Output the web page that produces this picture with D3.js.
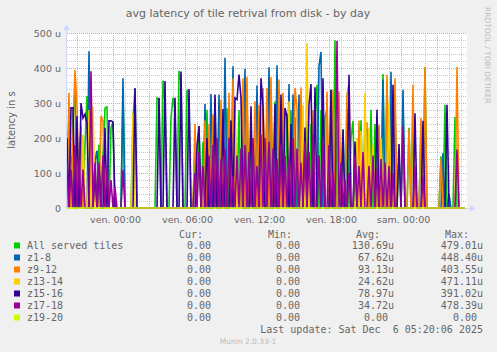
<!DOCTYPE html>
<html lang="en">
<head>
    <meta charset="UTF-8">
    <title>avg latency of tile retrival from disk - by day</title>
    <style>
        body, html { margin: 0; padding: 0; background-color: #f0f0f0; }
        svg { display: block; }
        text { font-family: "DejaVu Sans", sans-serif; fill: #666666; }
        .mono { font-family: "DejaVu Sans Mono", monospace; font-size: 10px; }
    </style>
</head>
<body>
    <svg id="chart" width="497" height="352"></svg>

    <script src="https://d3js.org/d3.v7.min.js"></script>
    <script>
        // series, drawn in this order (later ones on top)
        const seriesLabels = ["All served tiles", "z1-8", "z9-12", "z13-14", "z15-16", "z17-18", "z19-20"];
        const seriesColors = ["#00cc00", "#0066b3", "#ff8000", "#ffcc00", "#330099", "#990099", "#ccff00"];

        const curValues = ["0.00", "0.00", "0.00", "0.00", "0.00", "0.00", "0.00"];
        const minValues = ["0.00", "0.00", "0.00", "0.00", "0.00", "0.00", "0.00"];
        const avgValues = ["130.69u", "67.62u", "93.13u", "24.62u", "78.97u", "34.72u", "0.00"];
        const maxValues = ["479.01u", "448.40u", "403.55u", "471.11u", "391.02u", "478.39u", "0.00"];

        const yTicks = [0, 100, 200, 300, 400, 500];

        // samples every 10 minutes from jeu. 20:10, values in micro seconds
        const allServed = [
            120, 263, 0, 260, 334, 0, 150, 230, 0, 180,
            320, 0, 280, 0, 134, 0, 181, 0, 150, 286,
            289, 0, 230, 246, 0, 0, 0, 0, 329, 0,
            0, 0, 0, 257, 340, 0, 0, 0, 0, 0,
            0, 0, 0, 0, 0, 314, 310, 0, 364, 300,
            0, 0, 257, 315, 280, 0, 392, 360, 0, 0,
            338, 300, 0, 0, 175, 0, 234, 0, 189, 0,
            281, 0, 250, 0, 314, 0, 200, 0, 250, 0,
            285, 0, 250, 0, 260, 0, 280, 0, 300, 0,
            314, 0, 230, 0, 250, 0, 240, 0, 270, 0,
            280, 0, 300, 0, 305, 0, 260, 0, 240, 0,
            271, 0, 280, 0, 260, 0, 270, 0, 230, 0,
            250, 0, 240, 0, 260, 352, 0, 280, 0, 260,
            280, 0, 338, 0, 479, 0, 250, 0, 224, 0,
            286, 0, 200, 249, 0, 180, 0, 251, 0, 230,
            220, 0, 281, 0, 240, 0, 230, 0, 383, 0,
            360, 0, 250, 0, 300, 0, 150, 0, 300, 0,
            0, 229, 0, 303, 0, 0, 0, 234, 0, 403,
            0, 0, 0, 0, 0, 0, 0, 148, 0, 295,
            0, 0, 0, 0, 260, 0, 0, 0, 0, 0
        ];
        const z1to8 = [
            0, 0, 150, 0, 0, 0, 120, 0, 0, 0,
            0, 448, 0, 0, 134, 164, 0, 0, 0, 0,
            0, 0, 0, 0, 0, 0, 0, 0, 371, 0,
            0, 0, 0, 0, 0, 0, 0, 0, 0, 0,
            0, 0, 0, 0, 0, 0, 0, 0, 0, 0,
            0, 0, 0, 0, 0, 0, 0, 0, 0, 0,
            0, 0, 0, 0, 0, 0, 0, 0, 0, 297,
            0, 0, 326, 0, 0, 0, 324, 0, 0, 429,
            0, 0, 0, 405, 0, 0, 0, 0, 0, 398,
            0, 0, 0, 0, 0, 350, 0, 0, 0, 0,
            0, 402, 0, 0, 0, 408, 0, 0, 0, 0,
            0, 354, 0, 324, 0, 0, 324, 0, 0, 0,
            0, 0, 0, 0, 0, 0, 405, 446, 0, 0,
            0, 0, 0, 300, 0, 0, 0, 0, 0, 0,
            0, 0, 0, 0, 0, 0, 0, 0, 0, 0,
            0, 0, 0, 0, 0, 0, 0, 0, 367, 0,
            0, 0, 389, 0, 0, 0, 0, 0, 338, 0,
            0, 0, 0, 0, 0, 0, 0, 0, 0, 0,
            0, 0, 0, 0, 0, 0, 0, 0, 157, 0,
            0, 40, 0, 0, 0, 0, 0, 0, 0, 0
        ];
        const z9to12 = [
            0, 329, 0, 220, 395, 290, 0, 235, 0, 0,
            0, 0, 362, 0, 0, 0, 0, 263, 248, 0,
            0, 0, 0, 0, 0, 0, 0, 0, 0, 0,
            0, 0, 0, 0, 0, 0, 0, 0, 0, 0,
            0, 0, 0, 0, 0, 0, 0, 0, 0, 0,
            0, 0, 0, 0, 0, 0, 0, 0, 0, 0,
            0, 0, 0, 0, 240, 0, 0, 0, 0, 250,
            0, 240, 0, 267, 0, 0, 0, 309, 0, 0,
            0, 329, 0, 371, 0, 0, 0, 0, 371, 0,
            375, 0, 0, 0, 305, 0, 295, 0, 343, 0,
            343, 0, 374, 0, 0, 0, 367, 0, 329, 0,
            0, 0, 0, 0, 343, 286, 0, 345, 0, 0,
            0, 0, 0, 280, 0, 0, 0, 0, 0, 0,
            333, 0, 0, 338, 0, 0, 333, 0, 0, 0,
            324, 357, 0, 0, 0, 0, 250, 0, 0, 240,
            243, 0, 0, 0, 0, 0, 238, 0, 0, 0,
            381, 0, 0, 0, 371, 0, 0, 0, 0, 0,
            0, 225, 0, 352, 0, 0, 0, 257, 0, 403,
            0, 0, 0, 0, 0, 0, 0, 140, 0, 0,
            0, 0, 0, 0, 0, 403, 0, 0, 0, 0
        ];
        const z13to14 = [
            0, 0, 0, 0, 0, 200, 0, 0, 210, 0,
            0, 280, 0, 290, 0, 0, 0, 0, 0, 0,
            0, 0, 0, 0, 0, 0, 0, 0, 0, 0,
            0, 0, 0, 271, 0, 0, 0, 0, 0, 0,
            0, 0, 0, 0, 0, 0, 0, 0, 0, 0,
            0, 0, 0, 0, 0, 0, 0, 0, 0, 0,
            0, 0, 0, 0, 0, 0, 0, 0, 0, 0,
            0, 0, 0, 0, 0, 0, 0, 0, 150, 0,
            0, 0, 0, 0, 293, 0, 0, 0, 0, 0,
            0, 0, 0, 0, 0, 0, 0, 200, 0, 0,
            0, 0, 0, 0, 0, 0, 0, 0, 0, 0,
            0, 305, 0, 0, 0, 0, 0, 0, 295, 0,
            471, 0, 0, 0, 0, 0, 0, 0, 0, 0,
            0, 0, 0, 0, 0, 0, 0, 0, 0, 0,
            0, 0, 0, 0, 0, 200, 0, 220, 0, 329,
            0, 230, 0, 180, 0, 0, 0, 200, 0, 0,
            0, 300, 0, 0, 0, 0, 0, 0, 0, 0,
            0, 0, 0, 0, 0, 0, 0, 0, 0, 0,
            0, 0, 0, 0, 0, 0, 0, 0, 0, 0,
            0, 0, 0, 0, 0, 0, 0, 0, 0, 0
        ];
        const z15to16 = [
            200, 0, 286, 286, 0, 263, 0, 300, 257, 268,
            240, 0, 0, 0, 100, 0, 120, 0, 0, 229,
            0, 249, 249, 246, 0, 0, 0, 0, 0, 0,
            0, 0, 0, 0, 343, 0, 0, 0, 0, 0,
            0, 0, 0, 0, 0, 0, 315, 0, 0, 363,
            0, 0, 0, 0, 315, 0, 0, 390, 0, 0,
            0, 340, 0, 0, 0, 177, 234, 0, 0, 0,
            200, 0, 0, 0, 324, 0, 0, 0, 283, 0,
            0, 0, 250, 0, 314, 310, 381, 314, 0, 0,
            0, 0, 291, 0, 0, 0, 0, 371, 291, 0,
            0, 0, 0, 0, 297, 0, 0, 324, 0, 286,
            260, 0, 240, 0, 0, 0, 0, 0, 0, 230,
            0, 295, 354, 0, 345, 0, 0, 0, 371, 0,
            0, 0, 338, 0, 0, 0, 0, 0, 224, 0,
            0, 381, 0, 0, 190, 0, 0, 0, 0, 0,
            0, 0, 0, 0, 0, 281, 0, 0, 0, 0,
            0, 0, 0, 352, 0, 0, 183, 0, 0, 0,
            0, 0, 0, 0, 271, 0, 0, 0, 249, 0,
            0, 0, 0, 0, 0, 0, 0, 0, 0, 0,
            295, 0, 0, 0, 0, 0, 0, 0, 0, 0
        ];
        const z17to18 = [
            130, 0, 110, 0, 180, 0, 140, 0, 110, 0,
            0, 0, 391, 0, 130, 0, 130, 0, 150, 0,
            120, 0, 80, 0, 60, 0, 0, 0, 109, 0,
            0, 0, 0, 0, 0, 0, 0, 0, 0, 0,
            0, 0, 0, 0, 0, 0, 0, 0, 0, 0,
            0, 0, 0, 0, 0, 0, 0, 0, 0, 0,
            0, 0, 0, 0, 100, 0, 160, 0, 120, 0,
            0, 150, 0, 180, 0, 200, 0, 140, 0, 170,
            0, 200, 0, 90, 0, 150, 0, 170, 0, 180,
            0, 160, 0, 200, 0, 120, 0, 210, 0, 200,
            0, 190, 0, 170, 0, 140, 0, 180, 0, 150,
            0, 140, 0, 200, 0, 170, 0, 130, 0, 190,
            0, 160, 0, 210, 0, 0, 150, 0, 200, 0,
            0, 180, 0, 100, 0, 478, 0, 130, 0, 80,
            0, 100, 0, 0, 150, 0, 120, 0, 160, 0,
            0, 120, 0, 150, 0, 110, 0, 140, 0, 130,
            0, 120, 0, 100, 0, 0, 0, 0, 234, 0,
            0, 0, 0, 0, 120, 0, 0, 0, 90, 0,
            0, 0, 0, 0, 0, 0, 0, 0, 0, 0,
            0, 0, 0, 0, 0, 167, 0, 0, 0, 0
        ];
        const z19to20 = [
            0, 0, 0, 0, 0, 0, 0, 0, 0, 0,
            0, 0, 0, 0, 0, 0, 0, 0, 0, 0,
            0, 0, 0, 0, 0, 0, 0, 0, 0, 0,
            0, 0, 0, 0, 0, 0, 0, 0, 0, 0,
            0, 0, 0, 0, 0, 0, 0, 0, 0, 0,
            0, 0, 0, 0, 0, 0, 0, 0, 0, 0,
            0, 0, 0, 0, 0, 0, 0, 0, 0, 0,
            0, 0, 0, 0, 0, 0, 0, 0, 0, 0,
            0, 0, 0, 0, 0, 0, 0, 0, 0, 0,
            0, 0, 0, 0, 0, 0, 0, 0, 0, 0,
            0, 0, 0, 0, 0, 0, 0, 0, 0, 0,
            0, 0, 0, 0, 0, 0, 0, 0, 0, 0,
            0, 0, 0, 0, 0, 0, 0, 0, 0, 0,
            0, 0, 0, 0, 0, 0, 0, 0, 0, 0,
            0, 0, 0, 0, 0, 0, 0, 0, 0, 0,
            0, 0, 0, 0, 0, 0, 0, 0, 0, 0,
            0, 0, 0, 0, 0, 0, 0, 0, 0, 0,
            0, 0, 0, 0, 0, 0, 0, 0, 0, 0,
            0, 0, 0, 0, 0, 0, 0, 0, 0, 0,
            0, 0, 0, 0, 0, 0, 0, 0, 0, 0
        ];
        const allSeries = [allServed, z1to8, z9to12, z13to14, z15to16, z17to18, z19to20];

        const startTime = new Date(2025, 11, 4, 20, 10);
        const endTime = new Date(2025, 11, 6, 5, 30);
        const stepMin = 10;
        const dayNames = ["dim.", "lun.", "mar.", "mer.", "jeu.", "ven.", "sam."];

        const margin = { left: 67, right: 30, top: 33, bottom: 144 };
        const W = 497, H = 352;
        const plotW = W - margin.left - margin.right;   // 400
        const plotH = H - margin.top - margin.bottom;   // 175

        const svg = d3.select("#chart");

        const x = d3.scaleTime().domain([startTime, endTime]).range([margin.left, margin.left + plotW]);
        const y = d3.scaleLinear().domain([0, 500]).range([margin.top + plotH, margin.top]);

        // canvas
        svg.append("rect")
            .attr("x", margin.left).attr("y", margin.top)
            .attr("width", plotW).attr("height", plotH)
            .attr("fill", "#ffffff");

        // title
        svg.append("text")
            .attr("x", 248).attr("y", 17)
            .attr("text-anchor", "middle")
            .attr("font-size", "11px")
            .text("avg latency of tile retrival from disk - by day");

        // grid
        const gridMinor = "#c8c8c8", gridMajor = "#eba0a0";
        const grid = svg.append("g");

        grid.append("g")
            .attr("transform", `translate(${margin.left},0)`)
            .call(d3.axisLeft(y).tickValues(d3.range(20, 501, 20)).tickSize(-plotW).tickFormat(""))
            .call(g => g.select(".domain").remove())
            .call(g => g.selectAll("line").attr("stroke", gridMinor).attr("stroke-dasharray", "1,1"));

        grid.append("g")
            .attr("transform", `translate(0,${margin.top + plotH})`)
            .call(d3.axisBottom(x).ticks(d3.timeHour.every(1)).tickSize(-plotH).tickFormat(""))
            .call(g => g.select(".domain").remove())
            .call(g => g.selectAll("line").attr("stroke", gridMinor).attr("stroke-dasharray", "1,1"));

        grid.append("g")
            .attr("transform", `translate(${margin.left},0)`)
            .call(d3.axisLeft(y).tickValues([100, 200, 300, 400, 500]).tickSize(-plotW).tickFormat(""))
            .call(g => g.select(".domain").remove())
            .call(g => g.selectAll("line").attr("stroke", gridMajor).attr("stroke-dasharray", "1,1"));

        grid.append("g")
            .attr("transform", `translate(0,${margin.top + plotH})`)
            .call(d3.axisBottom(x).ticks(d3.timeHour.every(3)).tickSize(-plotH).tickFormat(""))
            .call(g => g.select(".domain").remove())
            .call(g => g.selectAll("line").attr("stroke", gridMajor).attr("stroke-dasharray", "1,1"));

        // y labels
        svg.append("g")
            .attr("transform", `translate(${margin.left},0)`)
            .call(d3.axisLeft(y).tickValues(yTicks).tickSize(0).tickPadding(6)
                .tickFormat(d => d === 0 ? "0" : d + " u"))
            .call(g => g.select(".domain").remove())
            .call(g => g.selectAll("text").attr("fill", "#666666").attr("font-size", "9.5px")
                .attr("font-family", "DejaVu Sans"));

        // x labels
        const hm = d3.timeFormat("%H:%M");
        svg.append("g")
            .attr("transform", `translate(2,${margin.top + plotH})`)
            .call(d3.axisBottom(x).ticks(d3.timeHour.every(6)).tickSize(0).tickPadding(8)
                .tickFormat(d => dayNames[d.getDay()] + " " + hm(d)))
            .call(g => g.select(".domain").remove())
            .call(g => g.selectAll("text").attr("fill", "#666666").attr("font-size", "9.5px")
                .attr("font-family", "DejaVu Sans"));

        // y axis title
        svg.append("text")
            .attr("transform", "translate(15,120) rotate(-90)")
            .attr("text-anchor", "middle")
            .attr("font-size", "10px")
            .text("latency in s");

        // watermark
        svg.append("text")
            .attr("transform", "translate(485,7) rotate(90)")
            .attr("font-size", "7.5px")
            .style("fill", "#bbbbbb")
            .text("RRDTOOL / TOBI OETIKER");

        // axes with arrows
        const axisColor = "#cfd6f8";
        svg.append("line")
            .attr("x1", margin.left).attr("x2", margin.left + plotW + 4)
            .attr("y1", margin.top + plotH + 0.5).attr("y2", margin.top + plotH + 0.5)
            .attr("stroke", axisColor);
        svg.append("line")
            .attr("x1", margin.left - 0.5).attr("x2", margin.left - 0.5)
            .attr("y1", margin.top + plotH).attr("y2", margin.top - 4)
            .attr("stroke", axisColor);
        svg.append("path")
            .attr("d", `M${margin.left + plotW + 3},${margin.top + plotH - 3} L${margin.left + plotW + 8},${margin.top + plotH + 0.5} L${margin.left + plotW + 3},${margin.top + plotH + 4} Z`)
            .attr("fill", axisColor);
        svg.append("path")
            .attr("d", `M${margin.left - 4},${margin.top - 3} L${margin.left - 0.5},${margin.top - 8} L${margin.left + 3},${margin.top - 3} Z`)
            .attr("fill", axisColor);

        // data lines
        svg.append("clipPath").attr("id", "clip")
            .append("rect")
            .attr("x", margin.left).attr("y", margin.top - 2)
            .attr("width", plotW).attr("height", plotH + 3);

        const timeAt = i => new Date(startTime.getTime() + i * stepMin * 60000);
        const line = d3.line()
            .x((d, i) => x(timeAt(i)))
            .y(d => y(d));

        svg.append("g")
            .attr("clip-path", "url(#clip)")
            .selectAll("path")
            .data(allSeries)
            .join("path")
            .attr("d", line)
            .attr("fill", "none")
            .attr("stroke", (d, i) => seriesColors[i])
            .attr("stroke-width", 1.6);

        // legend
        const legendTop = 249, rowH = 12;
        const colEnds = [217, 306, 394, 483];
        const headers = ["Cur:", "Min:", "Avg:", "Max:"];
        const legend = svg.append("g").attr("class", "mono");

        headers.forEach((h, j) => {
            legend.append("text")
                .attr("class", "mono")
                .attr("x", colEnds[j] - 14).attr("y", legendTop - 11.5)
                .attr("text-anchor", "end")
                .text(h);
        });

        seriesLabels.forEach((name, i) => {
            const yy = legendTop + i * rowH;
            legend.append("rect")
                .attr("x", 14).attr("y", yy - 6.5)
                .attr("width", 6).attr("height", 6)
                .attr("fill", seriesColors[i]);
            legend.append("text")
                .attr("class", "mono")
                .attr("x", 27).attr("y", yy)
                .text(name);
            [curValues[i], minValues[i], avgValues[i], maxValues[i]].forEach((v, j) => {
                legend.append("text")
                    .attr("class", "mono")
                    .attr("x", colEnds[j] - (v.endsWith("u") ? 0 : 6))
                    .attr("y", yy)
                    .attr("text-anchor", "end")
                    .text(v);
            });
        });

        legend.append("text")
            .attr("class", "mono")
            .attr("x", 483).attr("y", 333)
            .attr("text-anchor", "end")
            .style("white-space", "pre")
            .text("Last update: Sat Dec  6 05:20:06 2025");

        svg.append("text")
            .attr("x", 248).attr("y", 344)
            .attr("text-anchor", "middle")
            .attr("font-size", "7.5px")
            .style("fill", "#bbbbbb")
            .text("Munin 2.0.33-1");
    </script>
</body>
</html>
